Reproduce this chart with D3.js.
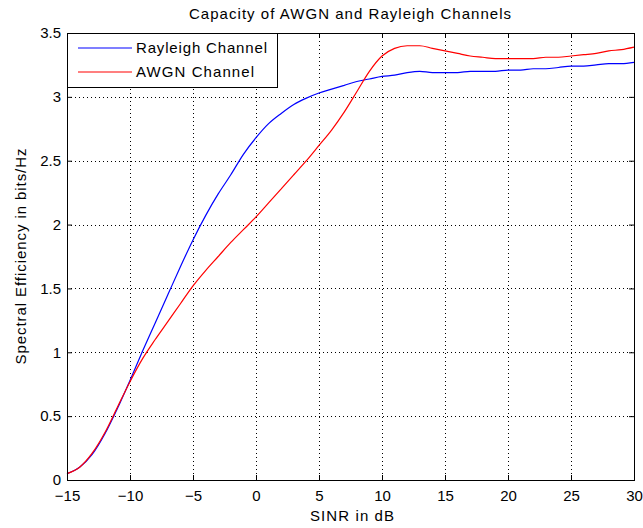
<!DOCTYPE html>
<html><head><meta charset="utf-8">
<script src="https://cdn.jsdelivr.net/npm/d3@7"></script>
<style>body{margin:0;background:#fff;} text{font-family:"Liberation Sans",Arial,sans-serif;fill:#000;}</style>
</head><body><svg id="c" width="643" height="528"></svg>
<script>
const snr = d3.range(-15, 31, 1);
const rayleigh = [0.05,0.1,0.2,0.36,0.56,0.78,1.01,1.23,1.45,1.67,1.88,2.07,2.24,2.39,2.55,2.68,2.79,2.87,2.94,2.99,3.03,3.06,3.09,3.12,3.14,3.16,3.17,3.19,3.2,3.19,3.19,3.19,3.2,3.2,3.2,3.21,3.21,3.22,3.22,3.23,3.24,3.24,3.25,3.26,3.26,3.27];
const awgn = [0.05,0.1,0.21,0.37,0.57,0.77,0.95,1.1,1.24,1.38,1.52,1.64,1.75,1.86,1.96,2.06,2.17,2.28,2.39,2.5,2.62,2.74,2.88,3.04,3.2,3.32,3.38,3.4,3.4,3.38,3.36,3.34,3.32,3.31,3.3,3.3,3.3,3.3,3.31,3.31,3.32,3.33,3.34,3.36,3.37,3.39];
const xTicks = [-15,-10,-5,0,5,10,15,20,25,30];
const yTicks = [0,0.5,1,1.5,2,2.5,3,3.5];
const seriesNames = ["Rayleigh Channel","AWGN Channel"];
const colors = ["#0000ff","#ff0000"];

const svg = d3.select("#c");
const L=67,R=634,T=33,B=480;
const x = d3.scaleLinear().domain([-15,30]).range([L,R]);
const y = d3.scaleLinear().domain([0,3.5]).range([B,T]);

// grid
const g = svg.append("g");
g.selectAll(".gx").data(xTicks.slice(1,-1)).join("line")
 .attr("x1",d=>Math.round(x(d))+0.5).attr("x2",d=>Math.round(x(d))+0.5).attr("y1",T).attr("y2",B)
 .attr("stroke","#000").attr("stroke-dasharray","1,3").attr("stroke-width",1);
g.selectAll(".gy").data(yTicks.slice(1,-1)).join("line")
 .attr("y1",d=>Math.round(y(d))+0.5).attr("y2",d=>Math.round(y(d))+0.5).attr("x1",L).attr("x2",R)
 .attr("stroke","#000").attr("stroke-dasharray","1,3").attr("stroke-width",1);

// axes (inward ticks, labels)
const xa = svg.append("g").attr("transform",`translate(0,${B})`)
 .call(d3.axisBottom(x).tickValues(xTicks).tickFormat(d3.format("d")).tickSizeInner(-5).tickSizeOuter(0).tickPadding(10));
svg.append("g").attr("transform",`translate(0,${T})`)
 .call(d3.axisTop(x).tickValues(xTicks).tickFormat("").tickSizeInner(-5).tickSizeOuter(0));
svg.append("g").attr("transform",`translate(${L},0)`)
 .call(d3.axisLeft(y).tickValues(yTicks).tickFormat(d=>d).tickSizeInner(-5).tickSizeOuter(0).tickPadding(6));
svg.append("g").attr("transform",`translate(${R},0)`)
 .call(d3.axisRight(y).tickValues(yTicks).tickFormat("").tickSizeInner(-5).tickSizeOuter(0));
svg.selectAll(".domain").attr("stroke","#000");
svg.selectAll(".tick line").attr("stroke","#000");
svg.selectAll(".tick text").attr("font-size",15).attr("font-family","Liberation Sans, Arial, sans-serif").attr("fill","#000");
xa.selectAll(".tick text").attr("dy","0.71em");

// lines
const line = d3.line().x((d,i)=>x(snr[i])).y(d=>y(d)).curve(d3.curveMonotoneX);
[rayleigh, awgn].forEach((s,k)=>{
  svg.append("path").attr("d",line(s)).attr("fill","none").attr("stroke",colors[k]).attr("stroke-width",1.2);
});

// box
svg.append("rect").attr("x",L+0.5).attr("y",T+0.5).attr("width",R-L).attr("height",B-T).attr("fill","none").attr("stroke","#000");

// legend
const lg = svg.append("g");
lg.append("rect").attr("x",L+0.5).attr("y",T+0.5).attr("width",210).attr("height",54).attr("fill","#fff").attr("stroke","#000");
const legendLens = [131,118];
seriesNames.forEach((n,k)=>{
  const yy = T+15+k*24;
  lg.append("line").attr("x1",78).attr("x2",132).attr("y1",yy).attr("y2",yy).attr("stroke",colors[k]).attr("stroke-width",1.2);
  lg.append("text").attr("x",136).attr("y",yy+5).attr("font-size",15).attr("textLength",legendLens[k]).attr("lengthAdjust","spacing").text(n);
});

// titles
svg.append("text").attr("x",350).attr("y",19).attr("text-anchor","middle").attr("font-size",15).attr("textLength",322).attr("lengthAdjust","spacing").text("Capacity of AWGN and Rayleigh Channels");
svg.append("text").attr("x",352).attr("y",521).attr("text-anchor","middle").attr("font-size",15).attr("textLength",84).attr("lengthAdjust","spacing").text("SINR in dB");
svg.append("text").attr("transform",`translate(26,${(T+B)/2}) rotate(-90)`).attr("text-anchor","middle").attr("font-size",15).attr("textLength",216).attr("lengthAdjust","spacing").text("Spectral Efficiency in bits/Hz");
</script></body></html>
